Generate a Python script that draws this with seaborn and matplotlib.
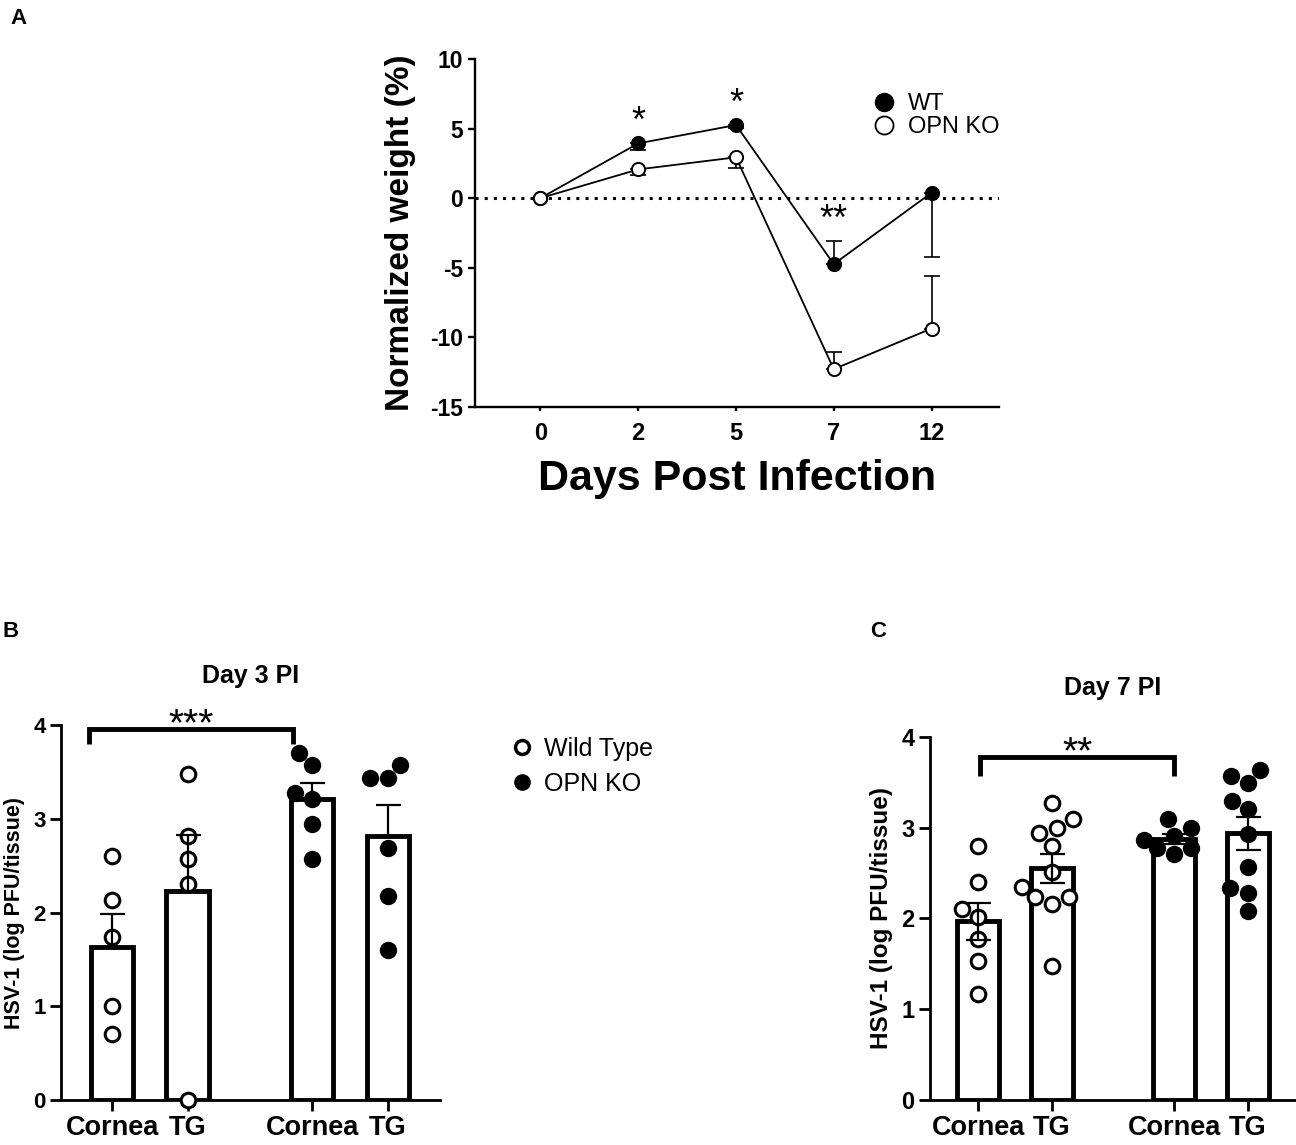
import matplotlib
matplotlib.use("Agg")
import matplotlib.pyplot as plt
from matplotlib.lines import Line2D
import numpy as np
import pandas as pd
import seaborn as sns

# ---- Panel A: normalized body weight, mean and SEM (one-sided bars as drawn) ----
days = ["0", "2", "5", "7", "12"]
wt_weight = [0.0, 3.93, 5.25, -4.75, 0.38]
wt_sem = [0.0, 0.48, 0.20, 1.66, 4.65]
wt_err_side = [-1, -1, -1, 1, -1]
ko_weight = [0.0, 2.06, 2.93, -12.30, -9.38]
ko_sem = [0.0, 0.41, 0.80, 1.25, 3.79]
ko_err_side = [-1, -1, -1, 1, 1]
weight_stars = ["", "*", "*", "**", ""]

# ---- Panels B, C: HSV-1 titres (log PFU/tissue), one value per mouse ----
tissues = ["Cornea", "TG"]
day3_wt_cornea = [2.60, 2.13, 1.74, 1.00, 0.70]
day3_wt_tg = [3.48, 2.82, 2.57, 2.30, 0.00]
day3_ko_cornea = [3.70, 3.57, 3.28, 3.21, 2.94, 2.57]
day3_ko_tg = [3.57, 3.44, 3.43, 2.69, 2.18, 1.60]
day7_wt_cornea = [2.80, 2.40, 2.10, 2.01, 1.77, 1.53, 1.17]
day7_wt_tg = [3.27, 3.09, 2.99, 2.94, 2.80, 2.51, 2.35, 2.23, 2.23, 2.16, 1.48]
day7_ko_cornea = [3.09, 2.99, 2.91, 2.86, 2.78, 2.78, 2.71]
day7_ko_tg = [3.63, 3.57, 3.49, 3.29, 3.20, 2.93, 2.56, 2.33, 2.28, 2.08]

sns.set_style("ticks")
plt.rcParams["font.family"] = ["Liberation Sans", "DejaVu Sans"]
plt.rcParams.update({
    "axes.linewidth": 2,
    "axes.edgecolor": "black",
    "axes.labelcolor": "black",
    "text.color": "black",
    "xtick.color": "black",
    "ytick.color": "black",
    "axes.unicode_minus": False,
})

BAR_POS = {("WT", "Cornea"): 0.0, ("WT", "TG"): 1.0,
           ("OPN KO", "Cornea"): 2.65, ("OPN KO", "TG"): 3.65}
BAR_W = 0.56


def titre_frame(wt_c, wt_t, ko_c, ko_t):
    rows = []
    for group, tissue, vals in [("WT", "Cornea", wt_c), ("WT", "TG", wt_t),
                                ("OPN KO", "Cornea", ko_c), ("OPN KO", "TG", ko_t)]:
        for v in vals:
            rows.append({"group": group, "tissue": tissue, "value": v,
                         "pos": BAR_POS[(group, tissue)]})
    return pd.DataFrame(rows)


def stars(ax, x, y, label, fs):
    # asterisk glyph sits ~0.58 em above the baseline
    ax.annotate(label, xy=(x, y), xytext=(0, -0.58 * fs), textcoords="offset points",
                ha="center", va="baseline", fontsize=fs, annotation_clip=False)


def titre_panel(ax, df, title, both_sides, bracket, ytick_fs, ylab_fs, xlim):
    sns.barplot(data=df, x="pos", y="value", native_scale=True, errorbar=None,
                width=BAR_W, color="white", saturation=1, edgecolor="black",
                linewidth=3.5, ax=ax, zorder=1)
    wt = df[df["group"] == "WT"]
    ko = df[df["group"] == "OPN KO"]
    sns.swarmplot(data=wt, x="pos", y="value", native_scale=True, color="white",
                  edgecolor="black", linewidth=2.2, size=10.5, ax=ax, zorder=3,
                  clip_on=False)
    sns.swarmplot(data=ko, x="pos", y="value", native_scale=True, color="black",
                  linewidth=0, size=12.5, ax=ax, zorder=3, clip_on=False)
    st = df.groupby("pos")["value"].agg(["mean", "sem"])
    lower = st["sem"] if both_sides else np.zeros(len(st))
    ax.errorbar(st.index, st["mean"], yerr=[lower, st["sem"]], fmt="none",
                ecolor="black", elinewidth=1.6, capsize=9, capthick=1.6, zorder=4)

    x0, x1, h, drop, lab = bracket
    ax.plot([x0, x0, x1, x1], [h - drop, h, h, h - drop], color="black", lw=3.5,
            clip_on=False, solid_joinstyle="miter", solid_capstyle="butt")
    stars(ax, (x0 + x1) / 2, h + 0.17, lab, 28)

    ax.set_ylim(0, 4)
    ax.set_xlim(*xlim)
    ax.set_yticks([0, 1, 2, 3, 4])
    ax.set_xticks(sorted(BAR_POS.values()))
    ax.set_xticklabels(tissues * 2, fontsize=19.5, fontweight="bold")
    for t in ax.get_yticklabels():
        t.set_fontsize(ytick_fs)
        t.set_fontweight("bold")
    ax.tick_params(axis="both", length=8, width=2, pad=3)
    ax.set_xlabel("")
    ax.set_ylabel("HSV-1 (log PFU/tissue)", fontsize=ylab_fs, fontweight="bold",
                  labelpad=6)
    ax.set_title(title, fontsize=18, fontweight="bold", pad=30)
    sns.despine(ax=ax)


fig = plt.figure(figsize=(12.96, 11.45), dpi=100)

# ---------------- Panel A ----------------
axA = fig.add_axes([0.3665, 0.6448, 0.4043, 0.3037])
xpos = np.arange(len(days))
axA.axhline(0, color="black", lw=2.2, ls=(0, (1, 2.0)), zorder=0)
for vals, sem, side, face in [(wt_weight, wt_sem, wt_err_side, "black"),
                              (ko_weight, ko_sem, ko_err_side, "white")]:
    vals = np.array(vals)
    sem = np.array(sem)
    side = np.array(side)
    low = np.where(side < 0, sem, 0)
    high = np.where(side > 0, sem, 0)
    axA.errorbar(xpos, vals, yerr=[low, high], fmt="none", ecolor="black",
                 elinewidth=1.2, capsize=5.5, capthick=1.2, zorder=2)
    sns.lineplot(x=xpos, y=vals, color="black", lw=1.3, marker="o",
                 markersize=9.5, markerfacecolor=face, markeredgecolor="black",
                 markeredgewidth=1.4, ax=axA, zorder=3)

for i, lab in enumerate(weight_stars):
    if not lab:
        continue
    top = max(wt_weight[i] + (wt_sem[i] if wt_err_side[i] > 0 else 0),
              ko_weight[i] + (ko_sem[i] if ko_err_side[i] > 0 else 0))
    axA.annotate(lab, xy=(i, top), xytext=(0, 8), textcoords="offset points",
                 ha="center", va="baseline", fontsize=26)

axA.set_xlim(-0.67, 4.69)
axA.set_ylim(-15, 10)
axA.set_yticks([-15, -10, -5, 0, 5, 10])
axA.set_xticks(xpos)
axA.set_xticklabels(days, fontsize=17, fontweight="bold")
for t in axA.get_yticklabels():
    t.set_fontsize(16.5)
    t.set_fontweight("bold")
axA.tick_params(axis="y", length=5, width=1.7)
axA.tick_params(axis="x", length=3, width=1.7, pad=8)
for s in ["left", "bottom"]:
    axA.spines[s].set_linewidth(1.7)
axA.set_xlabel("Days Post Infection", fontsize=31, fontweight="bold", labelpad=10)
axA.set_ylabel("Normalized weight (%)", fontsize=24, fontweight="bold", labelpad=10)
sns.despine(ax=axA)

handlesA = [Line2D([], [], ls="none", marker="o", markersize=13,
                   markerfacecolor="black", markeredgecolor="black"),
            Line2D([], [], ls="none", marker="o", markersize=13,
                   markerfacecolor="white", markeredgecolor="black",
                   markeredgewidth=1.3)]
fig.legend(handlesA, ["WT", "OPN KO"], loc="center left",
           bbox_to_anchor=(0.673, 0.899), frameon=False, fontsize=17,
           handlelength=1.0, handletextpad=0.5, labelspacing=0.05,
           borderpad=0, borderaxespad=0)

# ---------------- Panel B ----------------
axB = fig.add_axes([0.0471, 0.0393, 0.2924, 0.3275])
dfB = titre_frame(day3_wt_cornea, day3_wt_tg, day3_ko_cornea, day3_ko_tg)
titre_panel(axB, dfB, "Day 3 PI", False,
            (BAR_POS[("WT", "Cornea")] - 0.30, BAR_POS[("OPN KO", "Cornea")] - 0.25,
             3.96, 0.16, "***"),
            16, 15.5, (-0.675, 4.34))

handlesB = [Line2D([], [], ls="none", marker="o", markersize=10,
                   markerfacecolor="white", markeredgecolor="black",
                   markeredgewidth=2.5),
            Line2D([], [], ls="none", marker="o", markersize=11,
                   markerfacecolor="black", markeredgecolor="black")]
fig.legend(handlesB, ["Wild Type", "OPN KO"], loc="center left",
           bbox_to_anchor=(0.393, 0.3306), frameon=False, fontsize=18,
           handlelength=1.0, handletextpad=0.4, labelspacing=0.45,
           borderpad=0, borderaxespad=0)

# ---------------- Panel C ----------------
axC = fig.add_axes([0.7176, 0.0393, 0.2824, 0.3173])
dfC = titre_frame(day7_wt_cornea, day7_wt_tg, day7_ko_cornea, day7_ko_tg)
titre_panel(axC, dfC, "Day 7 PI", True,
            (BAR_POS[("WT", "Cornea")] + 0.03, BAR_POS[("OPN KO", "Cornea")],
             3.78, 0.21, "**"),
            17, 17.5, (-0.65, 4.30))

for x, y, lab in [(10, 8, "A"), (2, 621, "B"), (870, 621, "C")]:
    fig.text(x / 1296, 1 - y / 1145, lab, fontsize=16, fontweight="bold",
             ha="left", va="top")

fig.savefig("out.png", dpi=100)
